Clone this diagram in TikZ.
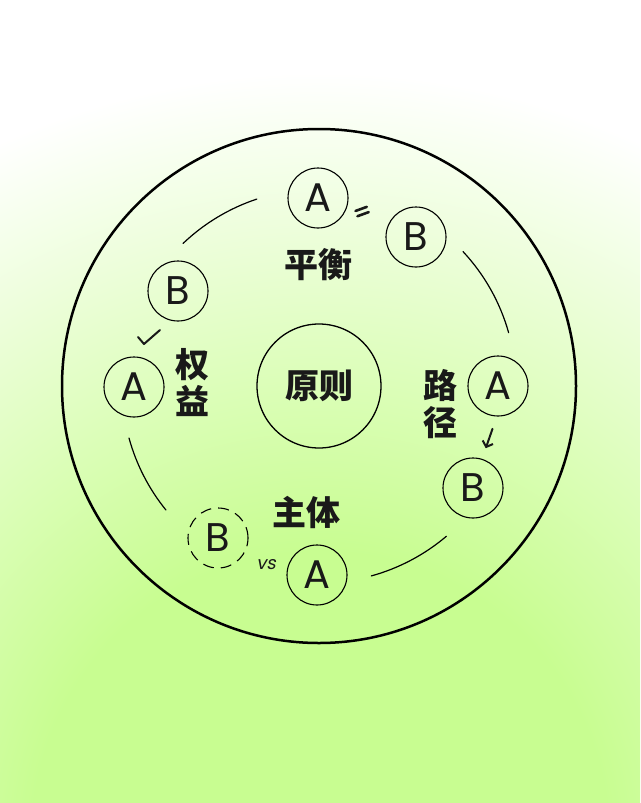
\documentclass[tikz,border=0pt]{standalone}
\usepackage{fontspec}
\newfontfamily\cjkfont{Noto Sans CJK SC}
\newfontfamily\letterfont{Poppins}
\newfontfamily\vsfont{Poppins}[FakeSlant=0.2]
\usepackage{tikz}
\usetikzlibrary{arrows.meta}
\usetikzlibrary{calc}
\usepackage{xcolor}
\definecolor{bggreen}{RGB}{200,253,145}
\colorlet{inkcol}{black!90}
\pgfdeclareradialshading{bgglow}{\pgfpoint{0bp}{0bp}}{color(0bp)=(bggreen); color(9bp)=(bggreen); color(24bp)=(white); color(50bp)=(white)}
\tikzstyle{ring}=[line width=1.2pt,line cap=round]
\tikzstyle{markline}=[line width=2pt,line cap=round,line join=round,inkcol]
\tikzset{
  letter/.style={circle,draw,line width=1.1pt,minimum size=60pt,inner sep=0pt,
                 text=inkcol,font=\letterfont\fontsize{40}{40}\selectfont},
  ghost/.style={letter,dash pattern=on 11pt off 7pt},
  tagtext/.style={text=inkcol,align=center,
                  font=\cjkfont\bfseries\fontsize{34}{37}\selectfont},
  pointer/.style={markline,-{Straight Barb[length=5pt,width=11pt]}}}

\begin{document}
\begin{tikzpicture}[x=1pt,y=-1pt]
  \def\Rout{257}
  \def\Rring{197}
  \coordinate (O) at (319,386);
  
  % BACKGROUND
  \useasboundingbox (0,0) rectangle (640,803);
  \begin{scope}
    \clip (0,0) rectangle (640,803);
    \fill[white] (0,0) rectangle (640,803);
    \shade[shading=bgglow] (320,840) circle (800);
  \end{scope}
  
  % RINGS
  \draw[line width=2.5pt] (O) circle (\Rout);
  \foreach \a/\b in {-133.6/-108.4,-43/-15.7,141/164.7,49.7/74.6}{
    \draw[ring] ([shift={(O)}]\a:\Rring) arc[start angle=\a,end angle=\b,radius=\Rring];
  }
  \node[circle,draw,line width=1.3pt,minimum size=124pt,tagtext] (core) at (O) {原则};
  
  % PAIRS
  \node[letter] (topA) at (318,198) {A};
  \node[letter] (topB) at (416,237) {B};
  \node[letter] (leftB) at (178,291) {B};
  \node[letter] (leftA) at (134,387) {A};
  \node[letter] (rightA) at (498,386) {A};
  \node[letter] (rightB) at (473,488) {B};
  \node[ghost] (botB) at (218,538) {B};
  \node[letter] (botA) at (317,575) {A};
  
  \node[tagtext] (balance) at (318,265) {平衡};
  \node[tagtext] (rights) at (192,382.5) {权\\益};
  \node[tagtext] (route) at (440,404) {路\\径};
  \node[tagtext] (subject) at (306,512) {主体};
  
  % SIGNS
  \coordinate (eq) at ($(topA)!0.45!(topB)+(0,-4)$);
  \begin{scope}[shift={(eq)},rotate=20]
    \draw[markline,line width=2.6pt] (-6,-2.8) -- (6,-2.8);
    \draw[markline,line width=2.6pt] (-6,2.8) -- (6,2.8);
  \end{scope}
  \coordinate (tick) at ($(leftB)!0.5!(leftA)$);
  \draw[markline] ($(tick)+(-18,-2)$) -- ($(tick)+(-12,5)$) -- ($(tick)+(4,-9)$);
  \draw[pointer] ($(rightA)!0.42!(rightB)+(5,0)$) -- ($(rightA)!0.61!(rightB)+(3,0)$);
  \node[text=inkcol,font=\vsfont\fontsize{18}{18}\selectfont] (vs) at (266,565) {vs};
  
\end{tikzpicture}
\end{document}
